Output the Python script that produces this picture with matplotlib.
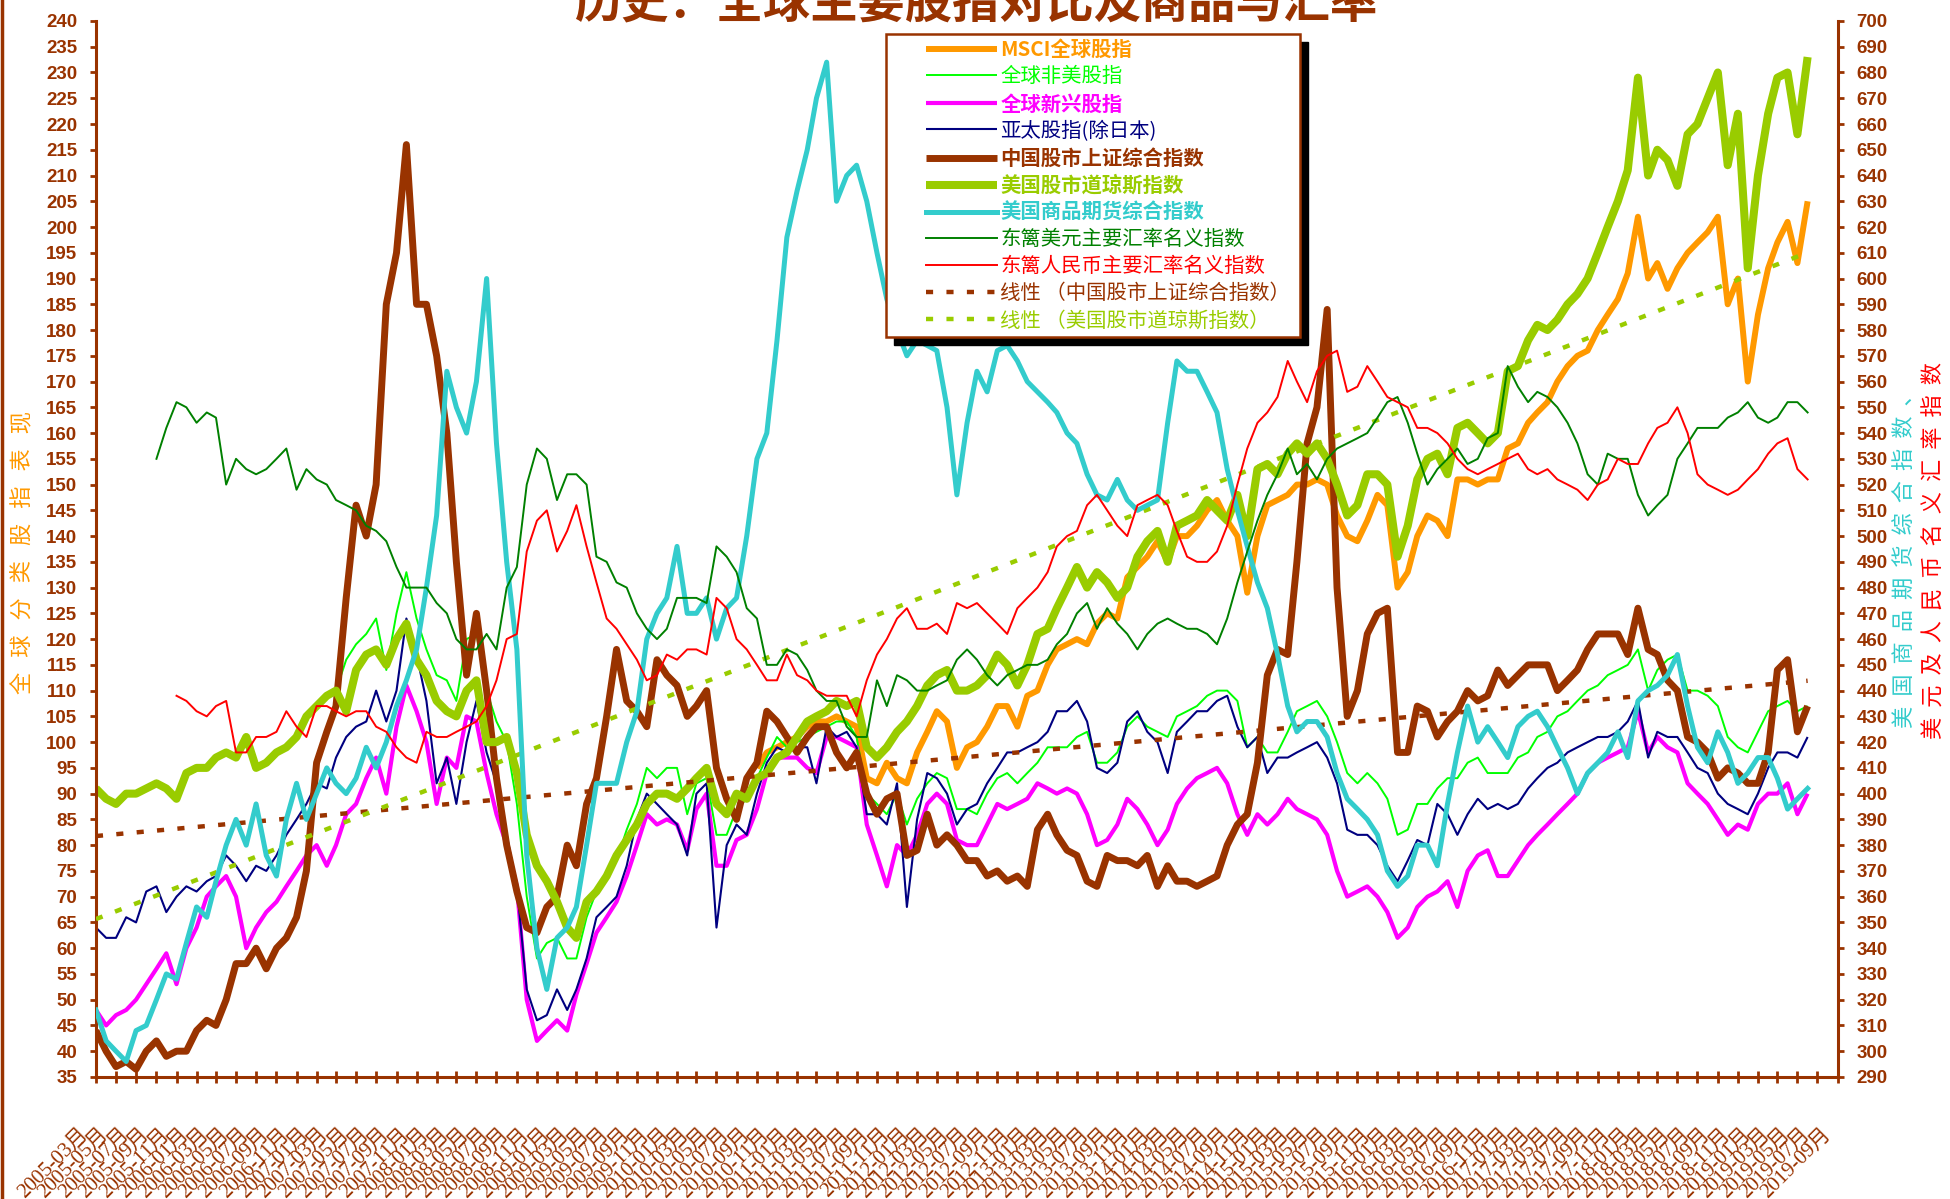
import numpy as np
import pandas as pd
import matplotlib
matplotlib.use("Agg")
import matplotlib.pyplot as plt
from matplotlib.lines import Line2D
from matplotlib.legend_handler import HandlerLine2D
from matplotlib.patches import Rectangle
from matplotlib.transforms import ScaledTranslation

plt.rcParams["font.family"] = ["Noto Sans CJK SC", "DejaVu Sans"]
plt.rcParams["axes.unicode_minus"] = False

BROWN = "#993300"

# ---- monthly readings, left axis (全球分类股指表现) ----
msci_start = "2010-09"
msci = [95, 98, 99, 100, 101, 103, 104, 104, 105, 104, 103, 93, 92, 96, 93, 92, 98, 102, 106, 104, 95, 99,
        100, 103, 107, 107, 103, 109, 110, 115, 118, 119, 120, 119, 123, 125, 124, 132, 134, 136, 139, 135,
        140, 140, 142, 145, 147, 143, 140, 129, 140, 146, 147, 148, 150, 150, 151, 150, 144, 140, 139, 143,
        148, 146, 130, 133, 140,
        144, 143, 140, 151, 151, 150, 151, 151, 157, 158, 162, 164, 166, 170, 173, 175, 176, 180, 183, 186,
        191, 202, 190, 193, 188, 192, 195, 197, 199, 202, 185, 190, 170, 183, 192, 197, 201, 193, 205]

exus_start = "2007-03"
exus = [110, 116, 119, 121, 124, 114, 125, 133, 124, 118, 113, 112, 108, 120, 121, 110, 104, 100, 88, 70, 58,
        61, 62, 58, 58, 66, 71, 74, 77, 83, 88, 95, 93, 95, 95, 86, 92, 93, 82, 82, 87, 89, 93, 97, 101, 99,
        100, 101, 102, 103, 104, 104, 101, 90, 88, 86, 90, 84, 89, 92, 94, 93, 87, 87,
        86, 90, 93, 94, 92, 94, 96, 99, 99, 99, 101, 102, 96, 96, 98, 103, 105, 103, 102, 101, 105, 106, 107,
        109, 110, 110, 108, 99, 101, 98, 98, 102, 106, 107, 108, 105, 100, 94, 92, 94, 92, 89, 82, 83, 88,
        88, 91, 93, 93, 96, 97, 94, 94, 94, 97, 98, 101, 102, 105, 106, 108, 110, 111, 113, 114, 115, 118,
        110, 114, 116, 117, 110, 110, 109, 107, 101, 99, 98, 102, 106, 107, 108, 106, 107]

em_start = "2005-03"
em = [48, 45, 47, 48, 50, 53, 56, 59, 53, 60, 64, 70, 72, 74, 70, 60, 64, 67, 69, 72, 75, 78, 80, 76, 80, 86,
      88, 93, 97, 90, 103, 111, 106, 100, 88, 97, 95, 105, 104, 94, 86, 80, 72, 50, 42,
      44, 46, 44, 51, 57, 63, 66, 69, 74, 80, 86, 84, 85, 84, 79, 87, 90, 76, 76, 81, 82, 87, 94, 97, 97, 97,
      95, 94, 101, 101, 100, 99, 84, 78, 72, 80, 78, 82, 88, 90, 88, 81, 80,
      80, 84, 88, 87, 88, 89, 92, 91, 90, 91, 90, 86, 80, 81, 84, 89, 87, 84, 80, 83, 88, 91, 93, 94, 95, 92,
      86, 82, 86, 84, 86, 89, 87, 86, 85, 82, 75, 70, 71, 72, 70, 67, 62, 64, 68,
      70, 71, 73, 68, 75, 78, 79, 74, 74, 77, 80, 82, 84, 86, 88, 90, 94, 96, 97, 98, 99, 106, 98, 101, 99,
      98, 92, 90, 88, 85, 82, 84, 83, 88, 90, 90, 92, 86, 90]

apac_start = "2005-03"
apac = [64, 62, 62, 66, 65, 71, 72, 67, 70, 72, 71, 73, 74, 78, 76, 73, 76, 75, 78, 82, 85, 88, 92, 91, 97, 101,
        103, 104, 110, 104, 110, 124, 117, 108, 92, 97, 88, 100, 108, 98, 92, 82, 72, 52, 46,
        47, 52, 48, 52, 58, 66, 68, 70, 76, 85, 90, 88, 86, 84, 78, 90, 92, 64, 80, 84, 82, 90, 96, 99, 98, 99,
        99, 92, 103, 101, 102, 99, 86, 86, 84, 92, 68, 85, 94, 93, 90, 84, 87,
        88, 92, 95, 98, 98, 99, 100, 102, 106, 106, 108, 104, 95, 94, 96, 104, 106, 102, 100, 94, 102, 104, 106,
        106, 108, 109, 103, 99, 101, 94, 97, 97, 98, 99, 100, 97, 92, 83, 82, 82, 80, 76, 73, 77, 81,
        80, 88, 86, 82, 86, 89, 87, 88, 87, 88, 91, 93, 95, 96, 98, 99, 100, 101, 101, 102, 104, 108, 97, 102,
        101, 101, 98, 95, 94, 90, 88, 87, 86, 90, 95, 98, 98, 97, 101]

shanghai_start = "2005-03"
shanghai = [44, 40, 37, 38, 36.5, 40, 42, 39, 40, 40, 44, 46, 45, 50, 57, 57, 60, 56, 60, 62, 66, 75, 96, 102,
            107, 128, 146, 140, 150, 185, 195, 216, 185, 185, 175, 160, 135, 113, 125, 110, 93, 80, 71, 64, 63,
            68, 70, 80, 76, 88, 93, 105, 118, 108, 106, 103, 116, 113, 111, 105, 107, 110, 95, 89, 85, 93, 96,
            106, 104, 101, 98, 101, 103, 103, 98, 95, 98, 90, 86, 89, 90, 78, 79, 86, 80, 82, 80, 77,
            77, 74, 75, 73, 74, 72, 83, 86, 82, 79, 78, 73, 72, 78, 77, 77, 76, 78, 72, 76, 73, 73, 72, 73, 74,
            80, 84, 86, 96, 113, 118, 117, 135, 158, 165, 184, 130, 105, 110, 121, 125, 126, 98, 98, 107,
            106, 101, 104, 106, 110, 108, 109, 114, 111, 113, 115, 115, 115, 110, 112, 114, 118, 121, 121, 121,
            117, 126, 118, 117, 112, 110, 101, 100, 98, 93, 95, 94, 92, 92, 98, 114, 116, 102, 107]

dow_start = "2005-03"
dow = [91, 89, 88, 90, 90, 91, 92, 91, 89, 94, 95, 95, 97, 98, 97, 101, 95, 96, 98, 99, 101, 105, 107, 109, 110,
       106, 114, 117, 118, 115, 120, 123, 116, 113, 108, 106, 105, 110, 112, 100, 100, 101, 94, 82, 76,
       73, 69, 64, 62, 69, 71, 74, 78, 81, 84, 88, 90, 90, 89, 91, 93, 95, 88, 86, 90, 89, 93, 94, 97, 98, 101,
       104, 105, 106, 108, 107, 108, 99, 97, 99, 102, 104, 107, 111, 113, 114, 110, 110,
       111, 113, 117, 115, 111, 115, 121, 122, 126, 130, 134, 130, 133, 131, 128, 130, 136, 139, 141, 135, 142,
       143, 144, 147, 145, 143, 148, 140, 153, 154, 152, 156, 158, 156, 158, 155, 150, 144, 146, 152, 152,
       150, 136, 142, 151,
       155, 156, 152, 161, 162, 160, 158, 160, 172, 173, 178, 181, 180, 182, 185, 187, 190, 195, 200, 205,
       211, 229, 210, 215, 213, 208, 218, 220, 225, 230, 212, 222, 192, 210, 222, 229, 230, 218, 233]

# ---- monthly readings, right axis (商品期货综合指数、美元及人民币名义汇率指数) ----
commod_start = "2005-03"
commod = [316, 304, 300, 296, 308, 310, 320, 330, 328, 342, 356, 352, 366, 380, 390, 380, 396, 376, 368, 390,
          404, 390, 400, 410, 404, 400, 406, 418, 410, 420, 434, 444, 456, 480, 508, 564, 550, 540, 560, 600,
          536, 490, 456, 376, 340,
          324, 344, 348, 356, 380, 404, 404, 404, 420, 432, 460, 470, 476, 496, 470, 470, 476, 460, 472, 476,
          500, 530, 540, 576, 616, 634, 650, 670, 684, 630, 640, 644, 630, 610, 592, 580, 570, 576, 574, 572,
          550, 516, 544,
          564, 556, 572, 574, 568, 560, 556, 552, 548, 540, 536, 524, 516, 514, 522, 514, 510, 512, 514, 544,
          568, 564, 564, 556, 548, 526, 510, 496, 482, 472, 454, 434, 424, 428, 428, 422, 408, 398, 394, 390,
          384, 370, 364, 368, 380,
          380, 372, 396, 416, 434, 420, 426, 420, 414, 426, 430, 432, 426, 418, 410, 400, 408, 412, 416, 424,
          414, 436, 440, 442, 446, 454, 434, 418, 412, 424, 416, 404, 408, 414, 414, 406, 394, 398, 402]

usd_start = "2005-09"
usd = [530, 542, 552, 550, 544, 548, 546, 520, 530, 526, 524, 526, 530, 534, 518, 526, 522, 520, 514, 512, 510,
       504, 502, 498, 488, 480, 480, 480, 474, 470, 460, 456, 456, 462, 456, 480, 488, 520, 534,
       530, 514, 524, 524, 520, 492, 490, 482, 480, 470, 464, 460, 464, 476, 476, 476, 474, 496, 492, 486, 472,
       468, 450, 450, 456, 454, 448, 440, 436, 436, 426, 422, 422, 444, 434, 446, 444, 440, 440, 442, 444,
       452, 456,
       452, 446, 442, 446, 448, 450, 450, 452, 458, 462, 470, 474, 464, 472, 466, 462, 456, 462, 466, 468,
       466, 464, 464, 462, 458, 468, 482, 494, 506, 516, 524, 534, 524, 528, 522, 530, 534, 536, 538, 540,
       546, 552, 554, 544, 532,
       520, 526, 530, 534, 528, 530, 538, 540, 566, 558, 552, 556, 554, 550, 544, 536, 524, 520, 532, 530,
       530, 516, 508, 512, 516, 530, 536, 542, 542, 542, 546, 548, 552, 546, 544, 546, 552, 552, 548]

cny_start = "2005-11"
cny = [438, 436, 432, 430, 434, 436, 416, 416, 422, 422, 424, 432, 426, 422, 434, 434, 432, 430, 432, 432, 426,
       424, 418, 414, 412, 424, 422, 422, 424, 426, 428, 434, 444, 460, 462, 494, 506,
       510, 494, 502, 512, 496, 482, 468, 464, 458, 452, 444, 446, 454, 452, 456, 456, 454, 476, 472, 460, 456,
       450, 444, 444, 454, 446, 444, 440, 438, 438, 438, 430, 444, 454, 460, 468, 472, 464, 464, 466, 462,
       474, 472,
       474, 470, 466, 462, 472, 476, 480, 486, 496, 500, 502, 512, 516, 510, 504, 500, 512, 514, 516, 512,
       502, 492, 490, 490, 494, 504, 520, 534, 544, 548, 554, 568, 560, 552, 564, 570, 572, 556, 558, 566,
       560, 554, 552, 550, 542,
       542, 540, 536, 530, 526, 524, 526, 528, 530, 532, 526, 524, 526, 522, 520, 518, 514, 520, 522, 530,
       528, 528, 536, 542, 544, 550, 540, 524, 520, 518, 516, 518, 522, 526, 532, 536, 538, 526, 522]

axis_start, axis_end = "2005-03", "2019-09"


def months(start, values):
    return pd.date_range(start, periods=len(values), freq="MS")


fig = plt.figure(figsize=(19.5, 11.99), dpi=100)
ax = fig.add_axes([0.0492, 0.1018, 0.8933, 0.8807])
ax2 = ax.twinx()

# (label, start, values, colour, linewidth, bold legend text)
left_series = [
    ("MSCI全球股指", msci_start, msci, "#FF9900", 4.3, True),
    ("全球非美股指", exus_start, exus, "#00FF00", 1.4, False),
    ("全球新兴股指", em_start, em, "#FF00FF", 3.0, True),
    ("亚太股指(除日本)", apac_start, apac, "#000080", 1.5, False),
    ("中国股市上证综合指数", shanghai_start, shanghai, BROWN, 5.0, True),
    ("美国股市道琼斯指数", dow_start, dow, "#99CC00", 5.8, True),
]
right_series = [
    ("美国商品期货综合指数", commod_start, commod, "#33CCCC", 3.6, True),
    ("东篱美元主要汇率名义指数", usd_start, usd, "#008000", 1.4, False),
    ("东篱人民币主要汇率名义指数", cny_start, cny, "#FF0000", 1.4, False),
]

handles, weights = [], []
for label, start, vals, color, lw, bold in left_series:
    h, = ax.plot(months(start, vals), vals, color=color, lw=lw, label=label,
                 solid_joinstyle="round", solid_capstyle="butt")
    handles.append(h)
    weights.append("bold" if bold else "normal")

# linear trend lines (Excel 线性) for Shanghai and Dow
trend_handles = []
for start, vals, color, label in [(shanghai_start, shanghai, BROWN, "线性 （中国股市上证综合指数）"),
                                  (dow_start, dow, "#99CC00", "线性 （美国股市道琼斯指数）")]:
    d = months(start, vals)
    x = np.arange(len(vals))
    k, b = np.polyfit(x, vals, 1)
    h, = ax.plot(d[[0, -1]], b + k * x[[0, -1]], color=color, lw=3.2,
                 dashes=(1.6, 3.0), dash_capstyle="butt", label=label, zorder=3)
    trend_handles.append(h)

for label, start, vals, color, lw, bold in right_series:
    h, = ax2.plot(months(start, vals), vals, color=color, lw=lw, label=label,
                  solid_joinstyle="round")
    handles.append(h)
    weights.append("bold" if bold else "normal")
handles += trend_handles
weights += ["normal", "normal"]

# spines and ticks
for a in (ax, ax2):
    a.spines["top"].set_visible(False)
    for s in a.spines.values():
        s.set_color(BROWN)
        s.set_linewidth(2.2)
ax.spines["right"].set_visible(False)
ax2.spines["left"].set_visible(False)
ax2.spines["bottom"].set_visible(False)

ax.tick_params(axis="x", direction="inout", length=9, width=2, color=BROWN, pad=3.5)
ax.tick_params(axis="y", direction="out", length=4.5, width=2, color=BROWN, pad=9, labelcolor=BROWN)
ax2.tick_params(axis="y", direction="out", length=4.5, width=2, color=BROWN, pad=9, labelcolor=BROWN)

ax.set_ylim(35, 240)
ax.set_yticks(np.arange(35, 241, 5))
ax2.set_ylim(290, 700)
ax2.set_yticks(np.arange(290, 701, 10))
for lab in ax.get_yticklabels() + ax2.get_yticklabels():
    lab.set_family("Liberation Sans")
    lab.set_fontweight("bold")
    lab.set_fontsize(13.5)

ax.set_xlim(pd.Timestamp(axis_start), pd.Timestamp(axis_end))
ticks = pd.date_range(axis_start, axis_end, freq="2MS")
ax.set_xticks(ticks)
ax.set_xticklabels([d.strftime("%Y-%m") + "月" for d in ticks], rotation=45, ha="right", va="top",
                   rotation_mode="anchor", fontsize=15, color=BROWN,
                   family=["Liberation Serif", "Noto Sans CJK SC"])
# the category labels sit well below the axis, a little left of their tick
offset = ScaledTranslation(-0.17, -0.37, fig.dpi_scale_trans)
for lab in ax.get_xticklabels():
    lab.set_transform(lab.get_transform() + offset)

# legend with black drop shadow
fs_px = 14.7 * 100 / 72
leg = ax2.legend(handles, [h.get_label() for h in handles], loc="upper left", mode="expand",
                 bbox_to_anchor=(886 / 1950, 1 - 342 / 1199, 414 / 1950, 308 / 1199),
                 bbox_transform=fig.transFigure,
                 handler_map={Line2D: HandlerLine2D(xpad=35 / fs_px)},
                 fontsize=14.7, labelcolor="linecolor", handlelength=106 / fs_px, handletextpad=0.15,
                 labelspacing=0.3, borderpad=0.25, borderaxespad=0, fancybox=False, framealpha=1)
leg.get_frame().set_edgecolor(BROWN)
leg.get_frame().set_linewidth(1.8)
for txt, w in zip(leg.get_texts(), weights):
    txt.set_fontweight(w)
leg.set_zorder(6)

fig.canvas.draw()
bb = leg.get_window_extent()
inv = ax2.transAxes.inverted()
(x0, y0), (x1, y1) = inv.transform([[bb.x0 + 8, bb.y0 - 8], [bb.x1 + 8, bb.y1 - 8]])
ax2.add_patch(Rectangle((x0, y0), x1 - x0, y1 - y0, transform=ax2.transAxes, color="black",
                        zorder=5.5, clip_on=False))

# titles and axis captions
fig.text(0.5005, 1 - 4 / 1199, "历史：全球主要股指对比及商品与汇率", ha="center", va="center",
         fontsize=34, color=BROWN, fontweight="bold")
fig.text(0.0113, 0.5388, "   ".join("全球分类股指表现"), rotation=90, ha="center", va="center",
         fontsize=16, color="#FF9900")
fig.text(0.9769, 0.5363, "  ".join("美国商品期货综合指数、"), rotation=90, ha="center", va="center",
         fontsize=16, color="#33CCCC")
fig.text(0.9918, 0.5410, "  ".join("美元及人民币名义汇率指数"), rotation=90, ha="center", va="center",
         fontsize=16, color="#FF0000")

# thin frame line on the left edge of the chart area
fig.add_artist(Line2D([0.001, 0.001], [0, 1], transform=fig.transFigure, color=BROWN, lw=2.5))

fig.savefig("out.png", dpi=100)
